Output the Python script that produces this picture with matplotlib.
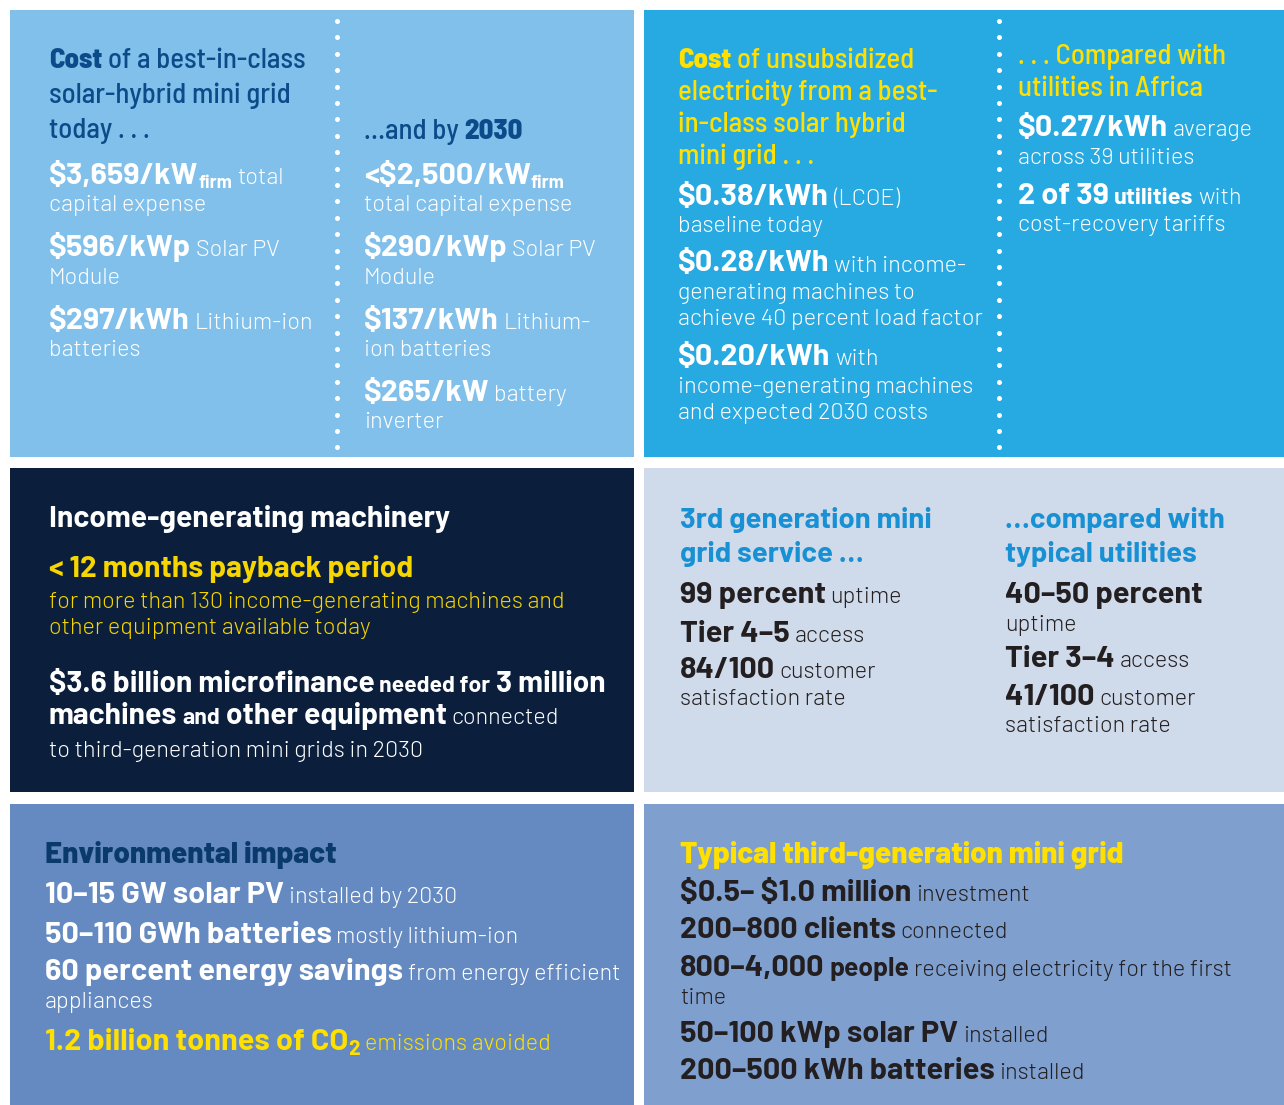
import matplotlib
matplotlib.use("Agg")
import numpy as np
import matplotlib.pyplot as plt
from matplotlib.patches import Rectangle
from matplotlib import font_manager

# text of every column; each line is a list of (text, kind) runs
# kinds: H strong heading, h heading, B bold figure, b small bold, r regular,
#        s subscript, Y/y highlighted bold/regular, z highlighted subscript
cost_today = [
    [("Cost", "H"), ("of a best-in-class", "h")],
    [("solar-hybrid mini grid", "h")],
    [("today . . .", "h")],
    [("$3,659/kW", "B"), ("firm", "s"), ("total", "r")],
    [("capital expense", "r")],
    [("$596/kWp", "B"), ("Solar PV", "r")],
    [("Module", "r")],
    [("$297/kWh", "B"), ("Lithium-ion", "r")],
    [("batteries", "r")],
]
cost_2030 = [
    [("\u2026and by", "h"), ("2030", "H")],
    [("<$2,500/kW", "B"), ("firm", "s")],
    [("total capital expense", "r")],
    [("$290/kWp", "B"), ("Solar PV", "r")],
    [("Module", "r")],
    [("$137/kWh", "B"), ("Lithium-", "r")],
    [("ion batteries", "r")],
    [("$265/kW", "B"), ("battery", "r")],
    [("inverter", "r")],
]
lcoe_mini_grid = [
    [("Cost", "H"), ("of unsubsidized", "h")],
    [("electricity from a best-", "h")],
    [("in-class solar hybrid", "h")],
    [("mini grid . . .", "h")],
    [("$0.38/kWh", "B"), ("(LCOE)", "r")],
    [("baseline today", "r")],
    [("$0.28/kWh", "B"), ("with income-", "r")],
    [("generating machines to", "r")],
    [("achieve 40 percent load factor", "r")],
    [("$0.20/kWh", "B"), ("with", "r")],
    [("income-generating machines", "r")],
    [("and expected 2030 costs", "r")],
]
lcoe_utilities = [
    [(". . . Compared with", "h")],
    [("utilities in Africa", "h")],
    [("$0.27/kWh", "B"), ("average", "r")],
    [("across 39 utilities", "r")],
    [("2 of 39", "B"), ("utilities", "b"), ("with", "r")],
    [("cost-recovery tariffs", "r")],
]
machinery = [
    [("Income-generating machinery", "H")],
    [("< 12 months payback period", "Y")],
    [("for more than 130 income-generating machines and", "y")],
    [("other equipment available today", "y")],
    [("$3.6 billion microfinance", "B"), ("needed for", "b"), ("3 million", "B")],
    [("machines", "B"), ("and", "b"), ("other equipment", "B"), ("connected", "r")],
    [("to third-generation mini grids in 2030", "r")],
]
service_mini_grid = [
    [("3rd generation mini", "H")],
    [("grid service \u2026", "H")],
    [("99 percent", "B"), ("uptime", "r")],
    [("Tier 4\u20135", "B"), ("access", "r")],
    [("84/100", "B"), ("customer", "r")],
    [("satisfaction rate", "r")],
]
service_utilities = [
    [("\u2026compared with", "H")],
    [("typical utilities", "H")],
    [("40\u201350 percent", "B")],
    [("uptime", "r")],
    [("Tier 3\u20134", "B"), ("access", "r")],
    [("41/100", "B"), ("customer", "r")],
    [("satisfaction rate", "r")],
]
environment = [
    [("Environmental impact", "H")],
    [("10\u201315 GW solar PV", "B"), ("installed by 2030", "r")],
    [("50\u2013110 GWh batteries", "B"), ("mostly lithium-ion", "r")],
    [("60 percent energy savings", "B"), ("from energy efficient", "r")],
    [("appliances", "r")],
    [("1.2 billion tonnes of CO", "Y"), ("2", "z"), ("emissions avoided", "y")],
]
typical_grid = [
    [("Typical third-generation mini grid", "H")],
    [("$0.5\u2013 $1.0 million", "B"), ("investment", "r")],
    [("200\u2013800 clients", "B"), ("connected", "r")],
    [("800\u20134,000", "B"), ("people", "b"), ("receiving electricity for the first", "r")],
    [("time", "r")],
    [("50\u2013100 kWp solar PV", "B"), ("installed", "r")],
    [("200\u2013500 kWh batteries", "B"), ("installed", "r")],
]

installed = {f.name for f in font_manager.fontManager.ttflist}


def first_font(*names):
    for n in names:
        if n in installed:
            return n
    return "DejaVu Sans"


BODY = first_font("Barlow", "Lato")
NARROW = first_font("Barlow Semi Condensed", "Roboto Condensed", "Lato")
W, H = 1284, 1105
WHITE = "white"
YELLOW = "#ffe000"
INK = "#231f20"


def styles(head, body, hi=YELLOW, hfont=BODY, hsize=21.3, bsize=22, rsize=16.8,
           ssize=17, hweight=500, Hweight=800, Bweight=700):
    return {
        "H": dict(size=hsize, weight=Hweight, color=head, family=hfont),
        "h": dict(size=hsize, weight=hweight, color=head, family=hfont),
        "B": dict(size=bsize, weight=Bweight, color=body, family=BODY),
        "b": dict(size=ssize, weight=700, color=body, family=BODY),
        "r": dict(size=rsize, weight=300, color=body, family=BODY),
        "s": dict(size=13, weight=700, color=body, family=BODY, dy=4.5, attach=True),
        "Y": dict(size=bsize, weight=Bweight, color=hi, family=BODY),
        "y": dict(size=rsize, weight=300, color=hi, family=BODY),
        "z": dict(size=15, weight=700, color=hi, family=BODY, dy=5, attach=True),
    }


st_tl = styles("#0b4b8a", WHITE, hfont=NARROW, hsize=20.7)
st_tr = styles(YELLOW, WHITE, hfont=NARROW, hsize=20.7)
st_dark = styles(WHITE, WHITE, hi="#f6d500", hsize=21.5, bsize=21.5, ssize=16.5, Hweight=700)
st_mid = styles("#1890d4", INK, hsize=21, Hweight=700)
st_env = styles("#0a3a6b", WHITE, Hweight=800)
st_typ = styles(YELLOW, INK, ssize=19, Hweight=800)

panels = [
    (10, 10, 634, 457, "#80c0ea"),
    (644, 10, 1284, 457, "#27a9e1"),
    (10, 468, 634, 792, "#0b1f3d"),
    (644, 468, 1284, 792, "#cfdaea"),
    (10, 804, 634, 1105, "#648ac1"),
    (644, 804, 1284, 1105, "#7f9fce"),
]

columns = [
    (cost_today, 49, [68, 103, 138, 184, 211, 256.5, 283.5, 329, 355.5], st_tl),
    (cost_2030, 364, [139, 184, 211, 256.5, 283.5, 329, 355.5, 401, 428], st_tl),
    (lcoe_mini_grid, 678, [68.5, 100.5, 132.5, 164.5, 204.5, 232, 271.5, 299, 325.5,
                           365, 392.5, 419.5], st_tr),
    (lcoe_utilities, 1018, [63.5, 96.5, 136, 163.5, 204, 231.5], st_tr),
    (machinery, 49, [527, 577, 608, 634, 692, 724, 757], st_dark),
    (service_mini_grid, 680, [528, 562, 603, 642, 678, 705], st_mid),
    (service_utilities, 1005, [528, 562, 603, 631, 667, 705, 732], st_mid),
    (environment, 45, [863, 903, 943, 980, 1008, 1050], st_env),
    (typical_grid, 680, [863, 901, 938, 976, 1004, 1042, 1079], st_typ),
]

fig = plt.figure(figsize=(W / 100, H / 100), dpi=100)
fig.patch.set_facecolor("white")
ax = fig.add_axes([0, 0, 1, 1])
ax.set_xlim(0, W)
ax.set_ylim(H, 0)
ax.axis("off")

for x0, y0, x1, y1, c in panels:
    ax.add_patch(Rectangle((x0, y0), x1 - x0, y1 - y0, color=c, lw=0))

# dotted dividers in the two top panels
for xd in (337, 999):
    yd = np.arange(21, 457, 16.4)
    ax.scatter(np.full(len(yd), xd), yd, s=13, color="white", lw=0)

renderer = fig.canvas.get_renderer()
_gap = {}


def make(x, y, txt, st):
    return ax.text(x, y + st.get("dy", 0), txt, family=st["family"], fontsize=st["size"],
                   fontweight=st["weight"], color=st["color"], va="baseline", ha="left",
                   parse_math=False)


def space(st):
    key = (st["family"], st["size"], st["weight"])
    if key not in _gap:
        a = make(0, -100, "x x", st)
        b = make(0, -100, "xx", st)
        _gap[key] = a.get_window_extent(renderer).width - b.get_window_extent(renderer).width
        a.remove()
        b.remove()
    return _gap[key]


def put_line(x, y, runs, sty):
    prev = None
    for txt, kind in runs:
        st = sty[kind]
        if prev is not None and not st.get("attach"):
            x += space(st)
        t = make(x, y, txt, st)
        x += t.get_window_extent(renderer).width
        prev = st


for lines, x, ys, sty in columns:
    for runs, y in zip(lines, ys):
        put_line(x, y, runs, sty)

fig.savefig("out.png", dpi=100)
